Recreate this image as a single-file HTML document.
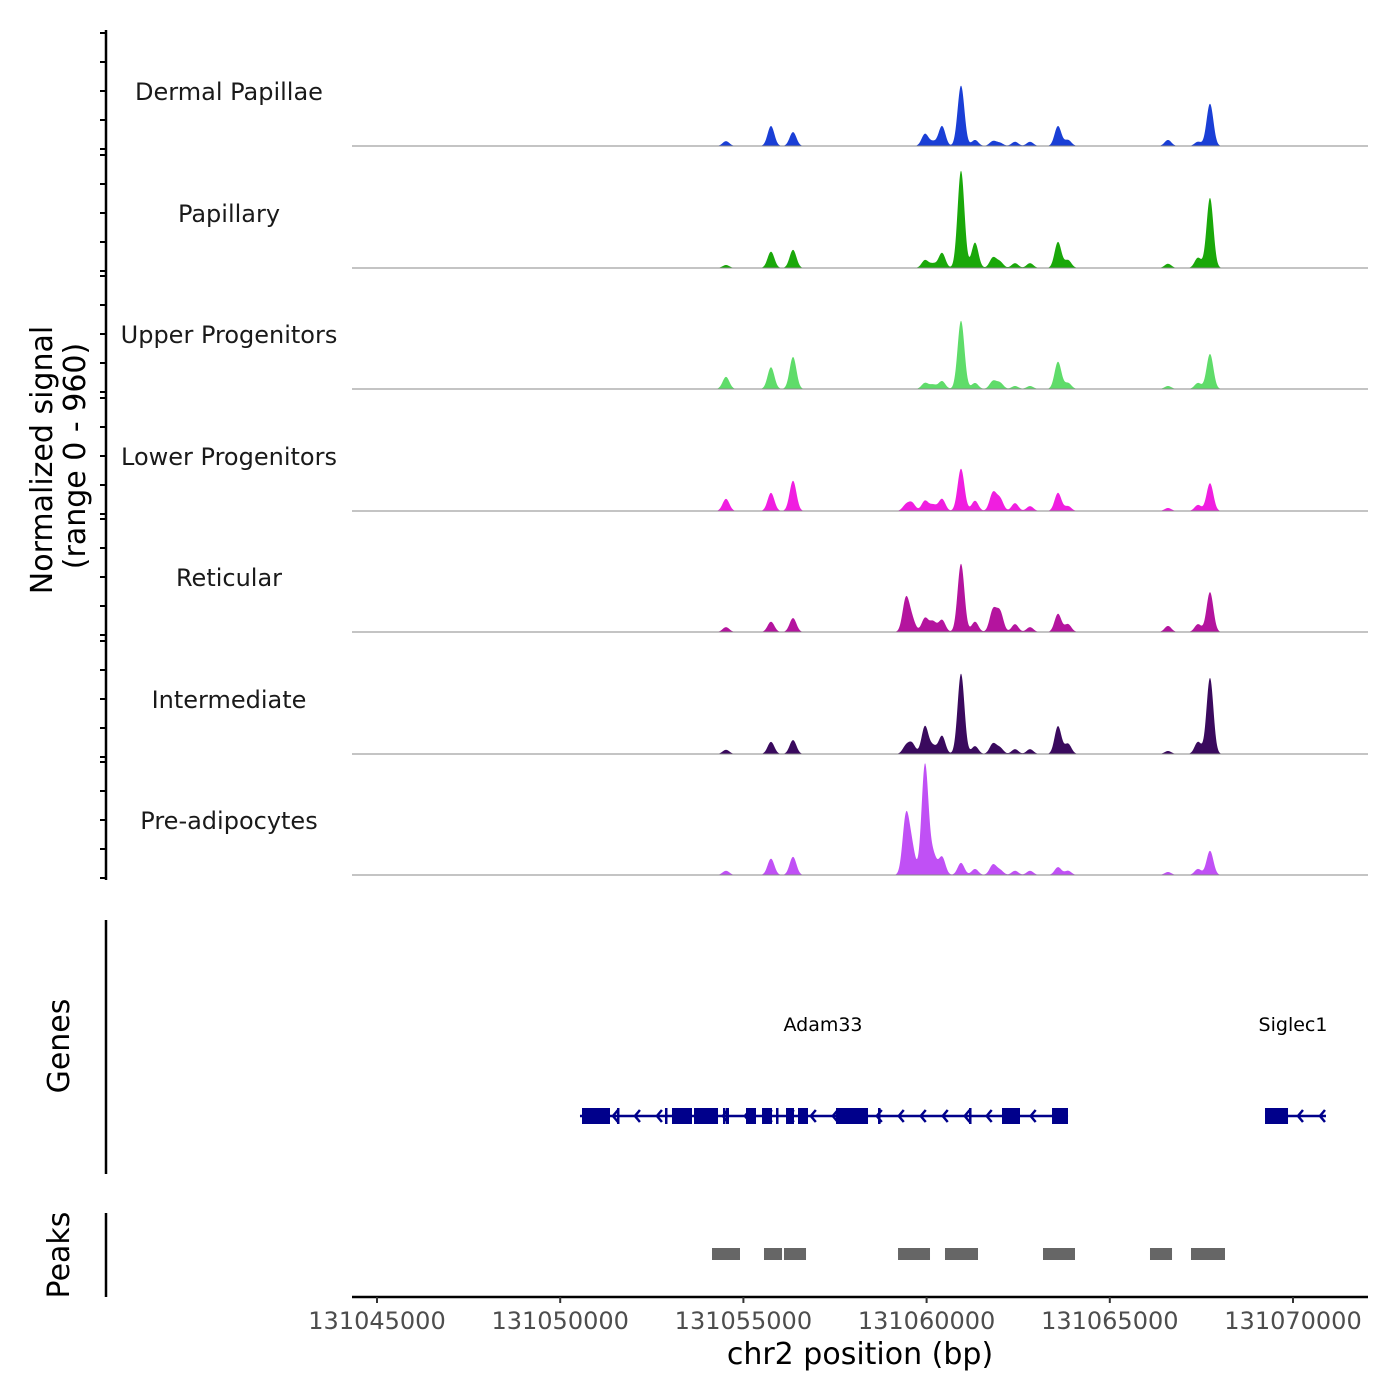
<!DOCTYPE html>
<html><head><meta charset="utf-8"><style>
html,body{margin:0;padding:0;background:#fff;}
svg{display:block;font-family:"DejaVu Sans","Liberation Sans",sans-serif;}
</style></head><body>
<svg id="chart" width="1400" height="1400" viewBox="0 0 1400 1400" xmlns="http://www.w3.org/2000/svg">
<g id="tracks"></g>
<g id="yaxis"></g>
<text transform="translate(52,460) rotate(-90)" text-anchor="middle" font-size="30" fill="#000">Normalized signal</text>
<text transform="translate(85,456) rotate(-90)" text-anchor="middle" font-size="30" fill="#000">(range 0 - 960)</text>
<g id="genes"></g>
<line x1="106" y1="920" x2="106" y2="1174" stroke="#000" stroke-width="2.5"/>
<text transform="translate(69,1046) rotate(-90)" text-anchor="middle" font-size="30">Genes</text>
<g id="peaks"></g>
<line x1="106" y1="1213" x2="106" y2="1297" stroke="#000" stroke-width="2.5"/>
<text transform="translate(69,1255) rotate(-90)" text-anchor="middle" font-size="30">Peaks</text>
<g id="xaxis"></g>
<text x="860" y="1364" text-anchor="middle" font-size="30">chr2 position (bp)</text>
</svg>
<script>
const trackNames = ["Dermal Papillae","Papillary","Upper Progenitors","Lower Progenitors","Reticular","Intermediate","Pre-adipocytes"];
const trackColors = ["#1a3fd6","#1aa80a","#5fdc6a","#f01ee0","#b4149e","#3a0a5e","#c050f5"];
const peakCenters = [131054525,131055753,131056354,131059437,131059602,131059956,131060175,131060420,131060939,131061321,131061812,131062003,131062413,131062822,131063586,131063859,131066588,131067407,131067734];
const sigDermalPapillae = [40,165,115,0,0,100,35,165,500,50,40,25,35,35,165,50,50,35,350];
const sigPapillary = [25,135,150,0,0,65,35,125,805,210,85,50,40,40,215,65,35,85,580];
const sigUpperProg = [100,180,265,0,0,50,35,65,565,50,65,50,25,25,225,50,25,50,290];
const sigLowerProg = [100,150,250,50,65,85,50,100,350,85,150,100,65,40,150,40,25,50,230];
const sigReticular = [40,85,115,275,100,115,85,100,565,85,180,165,65,40,150,65,50,65,330];
const sigIntermediate = [35,100,115,65,85,230,65,150,665,65,85,50,40,40,230,85,25,100,630];
const sigPreAdipocytes = [35,135,150,480,210,915,165,150,100,50,85,40,35,35,65,35,25,50,200];
const xTicks = [131045000,131050000,131055000,131060000,131065000,131070000];
const geneNames = ["Adam33","Siglec1"];
const geneStarts = [131050540,131069236];
const geneEnds = [131063860,131070900];
const exonStarts = [131050595,131051550,131052860,131053051,131053652,131054443,131054525,131055071,131055508,131055890,131056163,131056490,131057528,131058674,131061158,131062058,131063423,131069236];
const exonEnds = [131051359,131051600,131052910,131053597,131054307,131054480,131054607,131055344,131055781,131055940,131056381,131056763,131058401,131058724,131061208,131062549,131063859,131069864];
const peakStarts = [131054143,131055562,131056108,131059220,131060502,131063177,131066097,131067216];
const peakEnds = [131054907,131056054,131056709,131060093,131061403,131064050,131066698,131068144];

const NS="http://www.w3.org/2000/svg";
const X0=352,X1=1368,BP0=131045000-(25/36.64)*1000,BPPX=36.64/1000;
function xs(bp){return X0+(bp-BP0)*BPPX;}
function ys(v,base){return base-v*116/960;}
function mk(tag,attrs,parent){const e=document.createElementNS(NS,tag);for(const k in attrs)e.setAttribute(k,attrs[k]);parent.appendChild(e);return e;}
const allSig=[sigDermalPapillae,sigPapillary,sigUpperProg,sigLowerProg,sigReticular,sigIntermediate,sigPreAdipocytes];
const bases=[146,268,389,511,632,754,875];
const tg=document.getElementById('tracks'), ya=document.getElementById('yaxis');
allSig.forEach((sig,t)=>{
  const base=bases[t];
  let d=`M${X0},${base}`;
  for(let px=X0;px<=X1;px+=0.5){
    let v=0;
    peakCenters.forEach((c,i)=>{const dx=(px-xs(c));const s=3.4;v+=sig[i]*Math.exp(-dx*dx/(2*s*s));});
    d+=` L${px},${ys(v,base).toFixed(2)}`;
  }
  d+=` L${X1},${base} Z`;
  const p=mk('path',{d:d,fill:trackColors[t]},tg);
  
  
  const bl=mk('line',{x1:X0,x2:X1,y1:base,y2:base,stroke:'#888','stroke-width':1},tg);
  
  
  const lb=mk('text',{x:229,y:base-46,'text-anchor':'middle','font-size':24,fill:'#1a1a1a'},tg);
  lb.textContent=trackNames[t];
  
  
  for(let k=0;k<5;k++){
    const yy=base+3-k*29;
    const tk=mk('line',{x1:100,x2:106,y1:yy,y2:yy,stroke:'#000','stroke-width':2},ya);
    
    
  }
});
const ax=mk('line',{x1:106,x2:106,y1:30,y2:880,stroke:'#000','stroke-width':2.5},ya);



const gg=document.getElementById('genes');
const GY=1116;
geneNames.forEach((n,i)=>{
  const l=mk('line',{x1:xs(geneStarts[i]),x2:xs(geneEnds[i]),y1:GY,y2:GY,stroke:'#00008b','stroke-width':2.5},gg);
  
  
  const tx=mk('text',{x:i==0?823:1293,y:1031,'text-anchor':'middle','font-size':19},gg);
  tx.textContent=n;
  
  
  for(let bp=geneStarts[i]+300;bp<geneEnds[i];bp+=600){
    const x=xs(bp);
    const a=mk('path',{d:`M${x+5},${GY-6} L${x},${GY} L${x+5},${GY+6}`,fill:'none',stroke:'#00008b','stroke-width':2.5},gg);
    
    
  }
});
exonStarts.forEach((s,i)=>{
  const x=xs(s),w=Math.max(2.5,xs(exonEnds[i])-x);
  const r=mk('rect',{x:x,y:GY-8,width:w,height:16,fill:'#00008b'},gg);
  
  
});
const pg=document.getElementById('peaks');
peakStarts.forEach((s,i)=>{
  const r=mk('rect',{x:xs(s),y:1248,width:xs(peakEnds[i])-xs(s),height:12,fill:'#666'},pg);
  
  
});
const xg=document.getElementById('xaxis');
const xl=mk('line',{x1:X0,x2:X1,y1:1297,y2:1297,stroke:'#000','stroke-width':2.5},xg);


xTicks.forEach(t=>{
  const x=xs(t);
  const tk=mk('line',{x1:x,x2:x,y1:1297,y2:1303,stroke:'#333','stroke-width':2},xg);
  
  
  const tl=mk('text',{x:x,y:1329,'text-anchor':'middle','font-size':24,fill:'#4d4d4d'},xg);
  tl.textContent=t;
  
  
});
</script>
</body></html>
